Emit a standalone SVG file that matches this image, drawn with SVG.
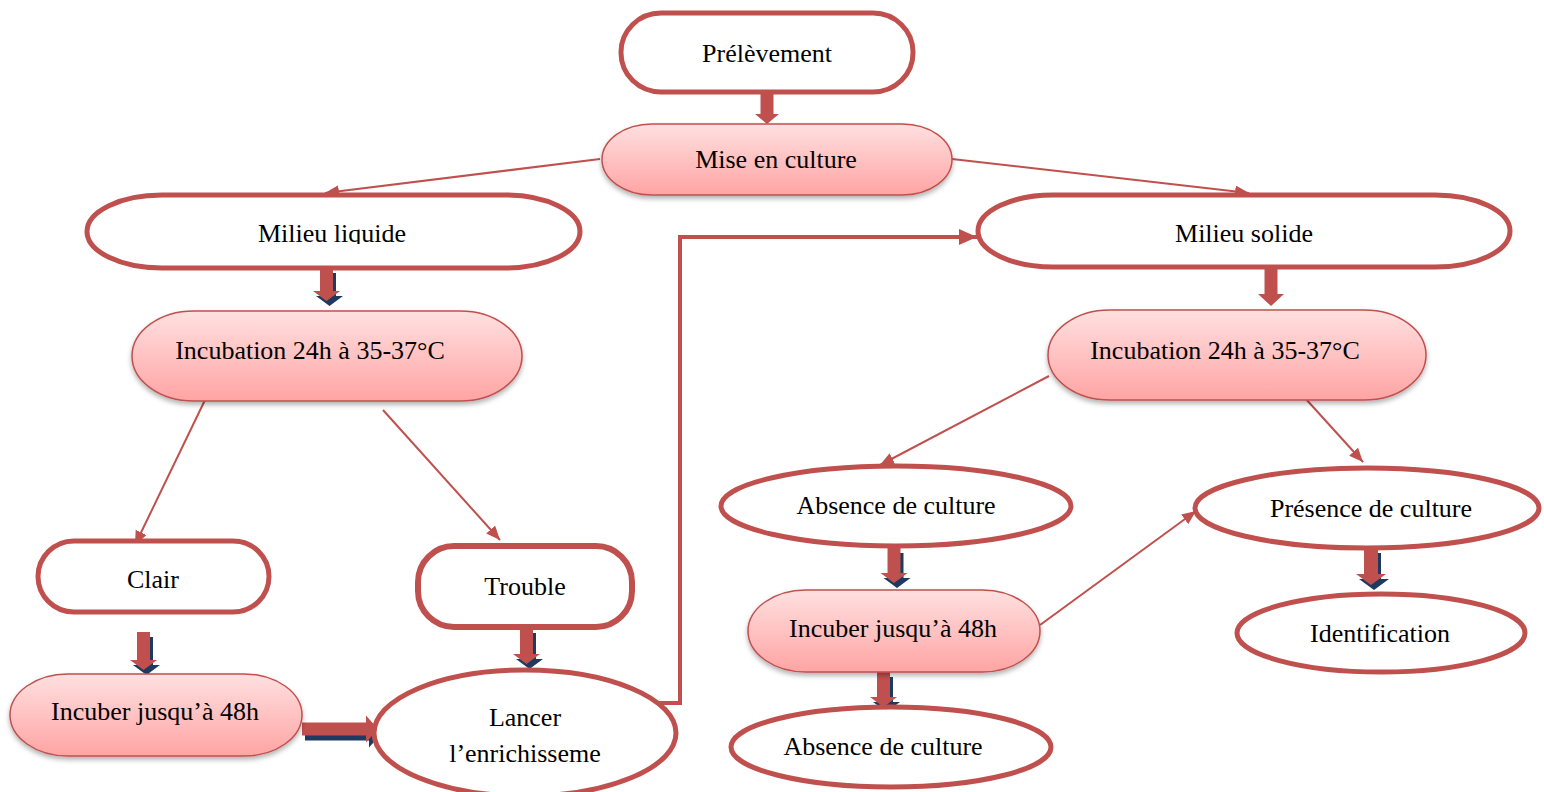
<svg xmlns="http://www.w3.org/2000/svg" width="1544" height="792" viewBox="0 0 1544 792">
<style>
.t{font-family:"Liberation Serif","Times New Roman",serif;font-size:26px;fill:#000;text-anchor:middle}
.w{fill:#fff;stroke:#C0504D;stroke-width:5}
.p{fill:url(#pink);stroke:#C0504D;stroke-width:1.5;filter:url(#sh)}
.ln{fill:none;stroke:#C0504D;stroke-width:2;marker-end:url(#ah)}
.lt{fill:none;stroke:#C0504D;stroke-width:4;marker-end:url(#ahb)}
.ba{fill:#C0504D}
.bs{fill:#1F3A60}
</style>
<defs>
<linearGradient id="pink" x1="0" y1="0" x2="0" y2="1">
<stop offset="0" stop-color="#FFE0E0"/>
<stop offset="1" stop-color="#FFA4A4"/>
</linearGradient>
<filter id="sh" x="-10%" y="-20%" width="120%" height="150%">
<feDropShadow dx="0" dy="3" stdDeviation="2.5" flood-color="#000" flood-opacity="0.3"/>
</filter>
<marker id="ah" viewBox="0 0 14 12" refX="14" refY="6" markerWidth="14" markerHeight="12" markerUnits="userSpaceOnUse" orient="auto">
<path d="M0,0 L14,6 L0,12 z" fill="#C0504D"/>
</marker>
<marker id="ahb" viewBox="0 0 18 16" refX="18" refY="8" markerWidth="18" markerHeight="16" markerUnits="userSpaceOnUse" orient="auto">
<path d="M0,0 L18,8 L0,16 z" fill="#C0504D"/>
</marker>
<clipPath id="clipLiq"><rect x="86" y="190" width="500" height="54"/></clipPath>
</defs>

<g id="connectors">
<line class="ln" x1="600" y1="159" x2="325" y2="193"/>
<line class="ln" x1="952" y1="159" x2="1249" y2="193"/>
<line class="ln" x1="205" y1="400" x2="135" y2="545"/>
<line class="ln" x1="383" y1="410" x2="500" y2="540"/>
<line class="ln" x1="1049" y1="376" x2="880" y2="465"/>
<line class="ln" x1="1305" y1="398" x2="1363" y2="462"/>
<line class="ln" x1="1040" y1="625" x2="1196" y2="511"/>
<polyline class="lt" points="658,703 680,703 680,237 977,237"/>
<!-- block arrows -->
<path class="ba" d="M760.5 92 H773.5 V114 H779 L767 124 L755 114 H760.5 Z"/>
<path class="bs" transform="translate(3,5)" d="M320 268 H333 V291 H340 L326.5 301 L313 291 H320 Z"/>
<path class="ba" d="M320 268 H333 V291 H340 L326.5 301 L313 291 H320 Z"/>
<path class="ba" d="M1264.5 267 H1277.5 V294 H1284 L1271 306 L1258 294 H1264.5 Z"/>
<path class="bs" transform="translate(3,5)" d="M137 632 H150 V660 H157 L143.5 670 L130 660 H137 Z"/>
<path class="ba" d="M137 632 H150 V660 H157 L143.5 670 L130 660 H137 Z"/>
<path class="bs" transform="translate(3,5)" d="M520 628 H533 V654 H540 L526.5 664 L513 654 H520 Z"/>
<path class="ba" d="M520 628 H533 V654 H540 L526.5 664 L513 654 H520 Z"/>
<path class="bs" transform="translate(3,5)" d="M302 722.5 H366 V715.5 L378 729 L366 742.5 V735.5 H302 Z"/>
<path class="ba" d="M302 722.5 H366 V715.5 L378 729 L366 742.5 V735.5 H302 Z"/>
<path class="bs" transform="translate(3,5)" d="M887.5 548 H900.5 V573 H907.5 L894 583 L880.5 573 H887.5 Z"/>
<path class="ba" d="M887.5 548 H900.5 V573 H907.5 L894 583 L880.5 573 H887.5 Z"/>
<path class="bs" transform="translate(3,5)" d="M877 672 H890 V697 H897 L883.5 707 L870 697 H877 Z"/>
<path class="ba" d="M877 672 H890 V697 H897 L883.5 707 L870 697 H877 Z"/>
<path class="bs" transform="translate(3,5)" d="M1364 548 H1378 V574 H1386 L1371 585 L1356 574 H1364 Z"/>
<path class="ba" d="M1364 548 H1378 V574 H1386 L1371 585 L1356 574 H1364 Z"/>
</g>

<g id="n-prelevement">
<rect class="w" x="621" y="13" width="292" height="79" rx="40" ry="39"/>
<text class="t" x="767" y="62">Prélèvement</text>
</g>
<g id="n-mise">
<rect class="p" x="602" y="124" width="350" height="71" rx="50" ry="35.5"/>
<text class="t" x="776" y="168">Mise en culture</text>
</g>
<g id="n-liquide">
<rect class="w" x="87" y="195" width="493" height="73" rx="75" ry="36.5"/>
<text class="t" x="332" y="242" clip-path="url(#clipLiq)">Milieu liquide</text>
</g>
<g id="n-solide">
<rect class="w" x="978" y="195" width="532" height="72" rx="75" ry="36"/>
<text class="t" x="1244" y="242">Milieu solide</text>
</g>
<g id="n-incub-left">
<rect class="p" x="132" y="311" width="390" height="90" rx="62" ry="45"/>
<text class="t" x="310" y="359">Incubation 24h à 35-37°C</text>
</g>
<g id="n-incub-right">
<rect class="p" x="1048" y="310" width="378" height="90" rx="62" ry="45"/>
<text class="t" x="1225" y="359">Incubation 24h à 35-37°C</text>
</g>
<g id="n-clair">
<rect class="w" x="38" y="541" width="231" height="71" rx="36" ry="35.5"/>
<text class="t" x="153" y="588">Clair</text>
</g>
<g id="n-trouble">
<rect class="w" x="418" y="546" width="214" height="81" rx="36" ry="36" style="stroke-width:6"/>
<text class="t" x="525" y="595">Trouble</text>
</g>
<g id="n-incuber-left">
<rect class="p" x="10" y="674" width="292" height="82" rx="58" ry="41"/>
<text class="t" x="155" y="720">Incuber jusqu’à 48h</text>
</g>
<g id="n-lancer">
<ellipse class="w" cx="525" cy="733" rx="151" ry="63"/>
<text class="t" x="525" y="726">Lancer</text>
<text class="t" x="525" y="762">l’enrichisseme</text>
</g>
<g id="n-absence1">
<ellipse class="w" cx="896" cy="506" rx="175" ry="40"/>
<text class="t" x="896" y="514">Absence de culture</text>
</g>
<g id="n-presence">
<ellipse class="w" cx="1367" cy="508" rx="172" ry="40"/>
<text class="t" x="1371" y="517">Présence de culture</text>
</g>
<g id="n-incuber-right">
<rect class="p" x="748" y="590" width="292" height="82" rx="58" ry="41"/>
<text class="t" x="893" y="637">Incuber jusqu’à 48h</text>
</g>
<g id="n-identification">
<ellipse class="w" cx="1381" cy="633" rx="144" ry="39"/>
<text class="t" x="1380" y="642">Identification</text>
</g>
<g id="n-absence2">
<ellipse class="w" cx="891" cy="747" rx="160" ry="40"/>
<text class="t" x="883" y="755">Absence de culture</text>
</g>
</svg>
